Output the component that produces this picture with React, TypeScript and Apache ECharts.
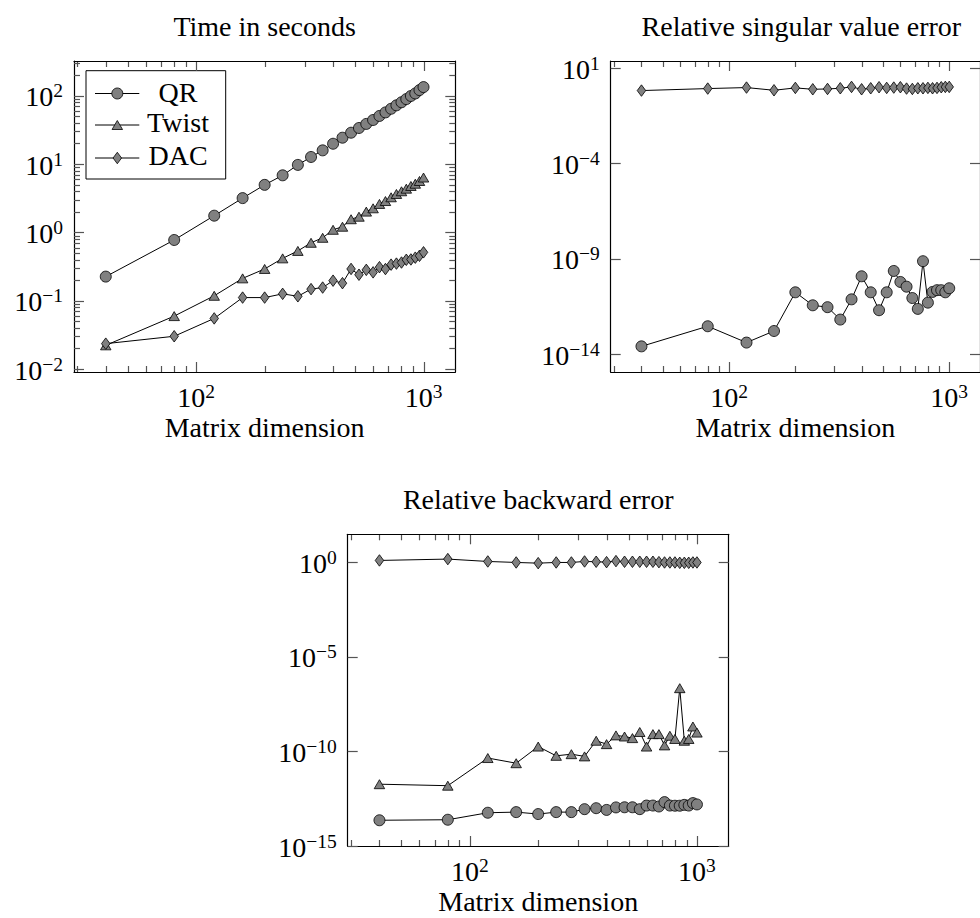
import React, { useEffect, useRef } from 'react';
import * as echarts from 'echarts';

// ---------- data ----------
const dims = [40, 80, 120, 160, 200, 240, 280, 320, 360, 400, 440, 480, 520, 560, 600, 640, 680, 720, 760, 800, 840, 880, 920, 960, 1000];
const seriesNames = ['QR', 'Twist', 'DAC'];

// Time in seconds
const timeQR = [0.227, 0.78, 1.77, 3.2, 5.0, 6.9, 9.8, 12.8, 16, 20, 24.5, 29, 34, 39, 44.5, 51, 57.5, 65, 73, 81, 90, 100, 109, 122, 135];
const timeTwist = [0.0224, 0.06, 0.119, 0.214, 0.294, 0.42, 0.54, 0.71, 0.84, 1.1, 1.22, 1.57, 1.71, 2.03, 2.27, 2.63, 2.9, 3.29, 3.68, 4.03, 4.4, 4.82, 5.2, 5.7, 6.4];
const timeDAC = [0.0237, 0.0304, 0.0555, 0.112, 0.112, 0.127, 0.117, 0.149, 0.157, 0.198, 0.182, 0.294, 0.242, 0.285, 0.262, 0.312, 0.293, 0.34, 0.352, 0.365, 0.4, 0.405, 0.43, 0.458, 0.515];

// Relative singular value error
const svQR = [2.6e-14, 2.95e-13, 4.1e-14, 1.66e-13, 1.78e-11, 3.7e-12, 2.95e-12, 6.6e-13, 7.6e-12, 1.23e-10, 1.78e-11, 2.04e-12, 1.78e-11, 2.34e-10, 6.2e-11, 3.5e-11, 8.9e-12, 2.4e-12, 7.6e-10, 5.1e-12, 1.86e-11, 2.3e-11, 2.3e-11, 1.78e-11, 2.9e-11];
const svDAC = [0.675, 0.86, 0.97, 0.7, 0.93, 0.79, 0.82, 0.89, 1.05, 0.79, 0.89, 1.01, 0.93, 0.97, 1.01, 0.86, 0.82, 0.89, 0.89, 0.93, 0.89, 0.93, 1.01, 1.05, 1.05];

// Relative backward error
const beQR = [2.3e-14, 2.45e-14, 5.75e-14, 6.2e-14, 4.9e-14, 6.2e-14, 6.2e-14, 8.9e-14, 1.0e-13, 8.1e-14, 1.1e-13, 1.12e-13, 1.12e-13, 8.9e-14, 1.38e-13, 1.38e-13, 1.23e-13, 2.1e-13, 1.38e-13, 1.35e-13, 1.35e-13, 1.5e-13, 1.38e-13, 1.86e-13, 1.58e-13];
const beTwist = [1.86e-12, 1.55e-12, 4.5e-11, 2.4e-11, 1.82e-10, 5.9e-11, 7.2e-11, 5.5e-11, 3.7e-10, 2.45e-10, 7.1e-10, 6.2e-10, 5.1e-10, 1.07e-9, 1.82e-10, 8.3e-10, 8.3e-10, 2.1e-10, 6.8e-10, 4.6e-10, 2.24e-7, 3.7e-10, 4.6e-10, 2.1e-9, 1.0e-9];
const beDAC = [1.28, 1.51, 1.13, 1.0, 0.92, 1.0, 1.0, 1.13, 1.09, 1.04, 1.18, 1.09, 1.09, 1.09, 1.09, 1.09, 1.04, 1.0, 1.0, 1.0, 0.96, 0.96, 0.96, 1.0, 1.0];

// tick values
const xMajorTicks = [100, 1000];
const xMinorTicks = [30, 40, 50, 60, 70, 80, 90, 200, 300, 400, 500, 600, 700, 800, 900];
const timeMajorTicks = [0.01, 0.1, 1, 10, 100];
const timeMinorTicks = [0.02, 0.03, 0.04, 0.05, 0.06, 0.07, 0.08, 0.09, 0.2, 0.3, 0.4, 0.5, 0.6, 0.7, 0.8, 0.9, 2, 3, 4, 5, 6, 7, 8, 9, 20, 30, 40, 50, 60, 70, 80, 90, 200, 300];
const svMajorTicks = [10, 1e-4, 1e-9, 1e-14];
const beMajorTicks = [1, 1e-5, 1e-10, 1e-15];

const titles = ['Time in seconds', 'Relative singular value error', 'Relative backward error'];
const xAxisName = 'Matrix dimension';

// ---------- styling / layout ----------
const FONT = '"Liberation Serif", "Times New Roman", serif';
const FS = 28;
const TICK_COLOR = '#555555';
const TICK_W = 1.2;
const MAJOR_LEN = 10;
const MINOR_LEN = 6;
const lg = (v: number) => Math.log10(v);

const X_EXT = [1.4623, 3.1398];

const panels = [
  { left: 74, top: 61, width: 381.3, height: 311, yExt: [-2.04, 2.512], yMajor: timeMajorTicks, yMinor: timeMinorTicks, title: titles[0], titleY: 26.5,
    series: [{ name: seriesNames[0], data: timeQR }, { name: seriesNames[1], data: timeTwist }, { name: seriesNames[2], data: timeDAC }] },
  { left: 610.7, top: 61, width: 381.3, height: 311, yExt: [-14.93, 1.38], yMajor: svMajorTicks, yMinor: [] as number[], title: titles[1], titleY: 26.5,
    series: [{ name: seriesNames[0], data: svQR }, { name: seriesNames[2], data: svDAC }] },
  { left: 347.7, top: 534.3, width: 381, height: 311.7, yExt: [-15.0, 1.49], yMajor: beMajorTicks, yMinor: [] as number[], title: titles[2], titleY: 499.5,
    series: [{ name: seriesNames[0], data: beQR }, { name: seriesNames[1], data: beTwist }, { name: seriesNames[2], data: beDAC }] },
];

const markers: Record<string, { symbol: string; symbolSize: any }> = {
  QR: { symbol: 'circle', symbolSize: 11 },
  Twist: { symbol: 'triangle', symbolSize: [10.5, 9] },
  DAC: { symbol: 'diamond', symbolSize: [8.5, 11.5] },
};

const supLabel = (v: number) => {
  const e = Math.round(v);
  const s = e < 0 ? '\u2212' + String(-e) : String(e);
  return `{b|10}{s|${s}}`;
};
const rich = {
  b: { fontFamily: FONT, fontSize: FS, lineHeight: 30, verticalAlign: 'bottom', color: '#000' },
  s: { fontFamily: FONT, fontSize: 19.5, lineHeight: 20, verticalAlign: 'top', color: '#000' },
};

function buildOption() {
  const grid: any[] = [];
  const xAxis: any[] = [];
  const yAxis: any[] = [];
  const series: any[] = [];
  const graphic: any[] = [];
  const axisIdx: { xIdx: number; yIdx: number }[] = [];
  const frameLine = { show: true, onZero: false, lineStyle: { color: '#000', width: 1.2 } };
  const noLine = { show: false, onZero: false };
  const tickLine = { color: TICK_COLOR, width: TICK_W };

  panels.forEach((p, gi) => {
    grid.push({ left: p.left, top: p.top, width: p.width, height: p.height, containLabel: false });
    const xb = { type: 'value', gridIndex: gi, min: X_EXT[0], max: X_EXT[1], splitLine: { show: false }, axisLabel: { show: false }, axisLine: noLine, axisTick: { show: false } };
    const xIdx = xAxis.length;
    xAxis.push({
      ...xb, position: 'bottom', axisLine: frameLine,
      axisLabel: { show: true, customValues: xMajorTicks.map(lg), formatter: supLabel, rich, margin: 9 },
      name: xAxisName, nameLocation: 'middle', nameGap: 41,
      nameTextStyle: { fontFamily: FONT, fontSize: FS, color: '#000' },
    });
    xAxis.push({ ...xb, position: 'top', axisLine: frameLine });

    const yb = { type: 'value', gridIndex: gi, min: p.yExt[0], max: p.yExt[1], splitLine: { show: false }, axisLabel: { show: false }, axisLine: noLine, axisTick: { show: false } };
    const yIdx = yAxis.length;
    yAxis.push({
      ...yb, position: 'left', axisLine: frameLine,
      axisTick: { show: true, inside: true, length: MAJOR_LEN, customValues: p.yMajor.map(lg), lineStyle: tickLine },
      axisLabel: { show: true, customValues: p.yMajor.map(lg), formatter: supLabel, rich, margin: 11 },
    });
    yAxis.push({ ...yb, position: 'right', axisLine: frameLine, axisTick: { show: true, inside: true, length: MAJOR_LEN, customValues: p.yMajor.map(lg), lineStyle: tickLine } });
    if (p.yMinor.length) {
      yAxis.push({ ...yb, position: 'left', axisTick: { show: true, inside: true, length: MINOR_LEN, customValues: p.yMinor.map(lg), lineStyle: tickLine } });
      yAxis.push({ ...yb, position: 'right', axisTick: { show: true, inside: true, length: MINOR_LEN, customValues: p.yMinor.map(lg), lineStyle: tickLine } });
    }
    axisIdx.push({ xIdx, yIdx });

    p.series.forEach((s) => {
      const m = markers[s.name];
      series.push({
        type: 'line', name: s.name, xAxisIndex: xIdx, yAxisIndex: yIdx,
        data: dims.map((d, i) => [lg(d), lg(s.data[i])]),
        symbol: m.symbol, symbolSize: m.symbolSize, showSymbol: true,
        itemStyle: { color: '#808080', borderColor: '#000', borderWidth: 0.8 },
        lineStyle: { color: '#000', width: 1 },
        emphasis: { disabled: true },
        clip: false, z: 2,
      });
    });

    graphic.push({
      id: 'title' + gi, type: 'text', x: p.left + p.width / 2, y: p.titleY,
      style: { text: p.title, fontFamily: FONT, fontSize: FS, fill: '#000', align: 'center', verticalAlign: 'middle', textAlign: 'center', textVerticalAlign: 'middle' },
    });
  });

  // legend (first panel)
  const lx0 = 95, lx1 = 139.3, mx = 117.3, tx = 178;
  const rowsLine = [93.5, 125, 158];
  const rowsText = [92, 122.5, 155];
  const legendChildren: any[] = [
    { type: 'rect', shape: { x: 86, y: 70.7, width: 139.7, height: 108.3 }, style: { fill: '#fff', stroke: '#000', lineWidth: 1 } },
  ];
  seriesNames.forEach((name, i) => {
    const y = rowsLine[i];
    legendChildren.push({ type: 'line', shape: { x1: lx0, y1: y, x2: lx1, y2: y }, style: { stroke: '#000', lineWidth: 1 } });
    const mk = { fill: '#808080', stroke: '#000', lineWidth: 0.8 };
    if (name === 'QR') legendChildren.push({ type: 'circle', shape: { cx: mx, cy: y, r: 5.5 }, style: mk });
    if (name === 'Twist') legendChildren.push({ type: 'polygon', shape: { points: [[mx - 5.25, y + 4.5], [mx + 5.25, y + 4.5], [mx, y - 4.5]] }, style: mk });
    if (name === 'DAC') legendChildren.push({ type: 'polygon', shape: { points: [[mx, y - 5.75], [mx + 4.25, y], [mx, y + 5.75], [mx - 4.25, y]] }, style: mk });
    legendChildren.push({ type: 'text', x: tx, y: rowsText[i], style: { text: name, fontFamily: FONT, fontSize: FS, fill: '#000', align: 'center', verticalAlign: 'middle', textAlign: 'center', textVerticalAlign: 'middle' } });
  });
  graphic.push({ id: 'legend', type: 'group', z: 100, children: legendChildren });

  return {
    option: {
      animation: false,
      backgroundColor: '#fff',
      textStyle: { fontFamily: FONT },
      grid, xAxis, yAxis, series, graphic,
    },
    axisIdx,
  };
}

// x-axis tick marks on the bottom and top edges, positioned through the chart's own scales
function buildXTicks(chart: any, axisIdx: { xIdx: number; yIdx: number }[]) {
  const children: any[] = [];
  const st = { stroke: TICK_COLOR, lineWidth: TICK_W };
  panels.forEach((p, gi) => {
    const finder = { xAxisIndex: axisIdx[gi].xIdx, yAxisIndex: axisIdx[gi].yIdx };
    const ticks = [
      ...xMajorTicks.map((t) => ({ v: lg(t), len: MAJOR_LEN })),
      ...xMinorTicks.map((t) => ({ v: lg(t), len: MINOR_LEN })),
    ];
    ticks.forEach(({ v, len }) => {
      const b = chart.convertToPixel(finder, [v, p.yExt[0]]);
      const t = chart.convertToPixel(finder, [v, p.yExt[1]]);
      if (!b || !t) return;
      const px = Math.round(b[0]) + 0.5;
      children.push({ type: 'line', shape: { x1: px, y1: b[1], x2: px, y2: b[1] - len }, style: st });
      children.push({ type: 'line', shape: { x1: px, y1: t[1], x2: px, y2: t[1] + len }, style: st });
    });
  });
  return { id: 'xticks', type: 'group', z: 50, silent: true, children };
}

export default function App() {
  const ref = useRef<HTMLDivElement>(null);
  useEffect(() => {
    if (!ref.current) return;
    const chart = echarts.init(ref.current, undefined, { renderer: 'svg' });
    const { option, axisIdx } = buildOption();
    chart.setOption(option as any);
    const tickGroup = buildXTicks(chart, axisIdx);
    chart.setOption({ graphic: [...option.graphic, tickGroup] } as any);
    return () => chart.dispose();
  }, []);
  return <div ref={ref} style={{ position: 'absolute', left: 0, top: 0, width: 980, height: 918, background: '#fff' }} />;
}
